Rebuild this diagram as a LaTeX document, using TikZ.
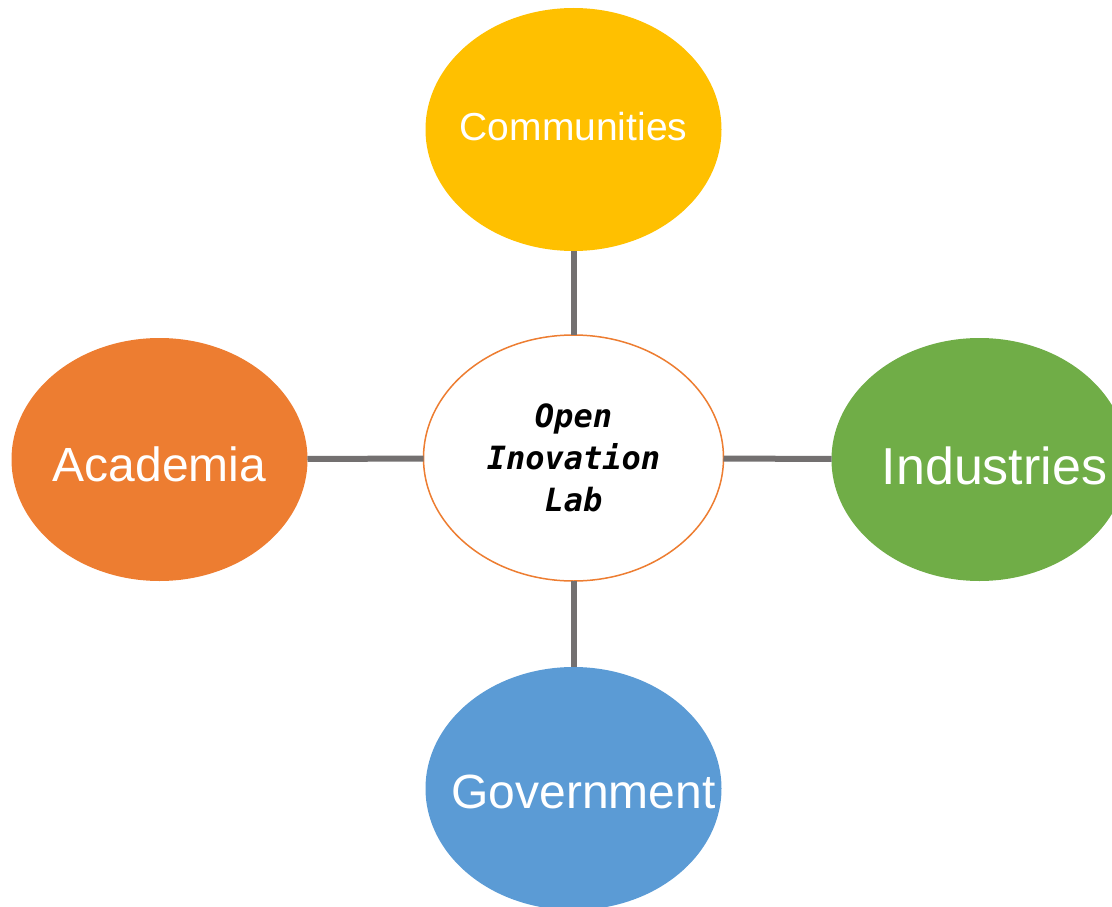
\documentclass[tikz,border=0pt]{standalone}
\usepackage{fontspec}
\setmainfont{Liberation Sans}
\newfontfamily\labmono{DejaVu Sans Mono}
\usetikzlibrary{shapes,positioning}

\definecolor{commyellow}{HTML}{FFC000}
\definecolor{acadorange}{HTML}{ED7D31}
\definecolor{indgreen}{HTML}{70AD47}
\definecolor{govblue}{HTML}{5B9BD5}
\definecolor{linkgray}{HTML}{737070}

% word of zero size, shifted right by #1/2, baseline at #2 from the centre
\newcommand{\ctext}[3]{\makebox[0pt]{\hspace*{#1}\raisebox{#2}[0pt][0pt]{#3}}}

\begin{document}
\begin{tikzpicture}[%
    node distance=84pt and 116pt, % Gaps between the ellipses
    every node/.style={inner sep=0pt, outer sep=0pt},
    ]
% -------------------------------------------------
% A few ellipse styles
\tikzset{
  base/.style={ellipse, minimum width=296pt, minimum height=243pt, text=white},
  party/.style={base, fill=#1},
  hub/.style={ellipse, draw=acadorange, line width=1.5pt, fill=white,
    minimum width=300pt, minimum height=246pt, align=center,
    font={\labmono\bfseries\itshape\fontsize{32}{42}\selectfont}},
  % Connector line style
  link/.style={draw=linkgray, line width=6pt},
}
\useasboundingbox (0,0) rectangle (1112pt,-907pt);
% -------------------------------------------------
% Start by placing the nodes

\node [hub] (lab) at (573.5pt,-458pt) {Open\\Inovation\\Lab};
\node [party=commyellow, above = of lab, font=\fontsize{39}{44}\selectfont] (comm) {\ctext{0pt}{-10.5pt}{Communities}};
\node [party=acadorange, left = of lab, yshift=-1.5pt, font=\fontsize{48}{54}\selectfont] (acad) {\ctext{0pt}{-22pt}{Academia}};
\node [party=indgreen, right = 108pt of lab, yshift=-1.5pt, font=\fontsize{52}{58}\selectfont] (ind) {\ctext{30pt}{-24.5pt}{Industries}};
\node [party=govblue, below = 86pt of lab, font=\fontsize{48}{54}\selectfont] (gov) {\ctext{20pt}{-19.5pt}{Government}};

\draw[link] (lab) -- (comm);
\draw[link] (lab) -- (acad);
\draw[link] (lab) -- (ind);
\draw[link] (lab) -- (gov);

% -------------------------------------------------
\end{tikzpicture}
\end{document}
